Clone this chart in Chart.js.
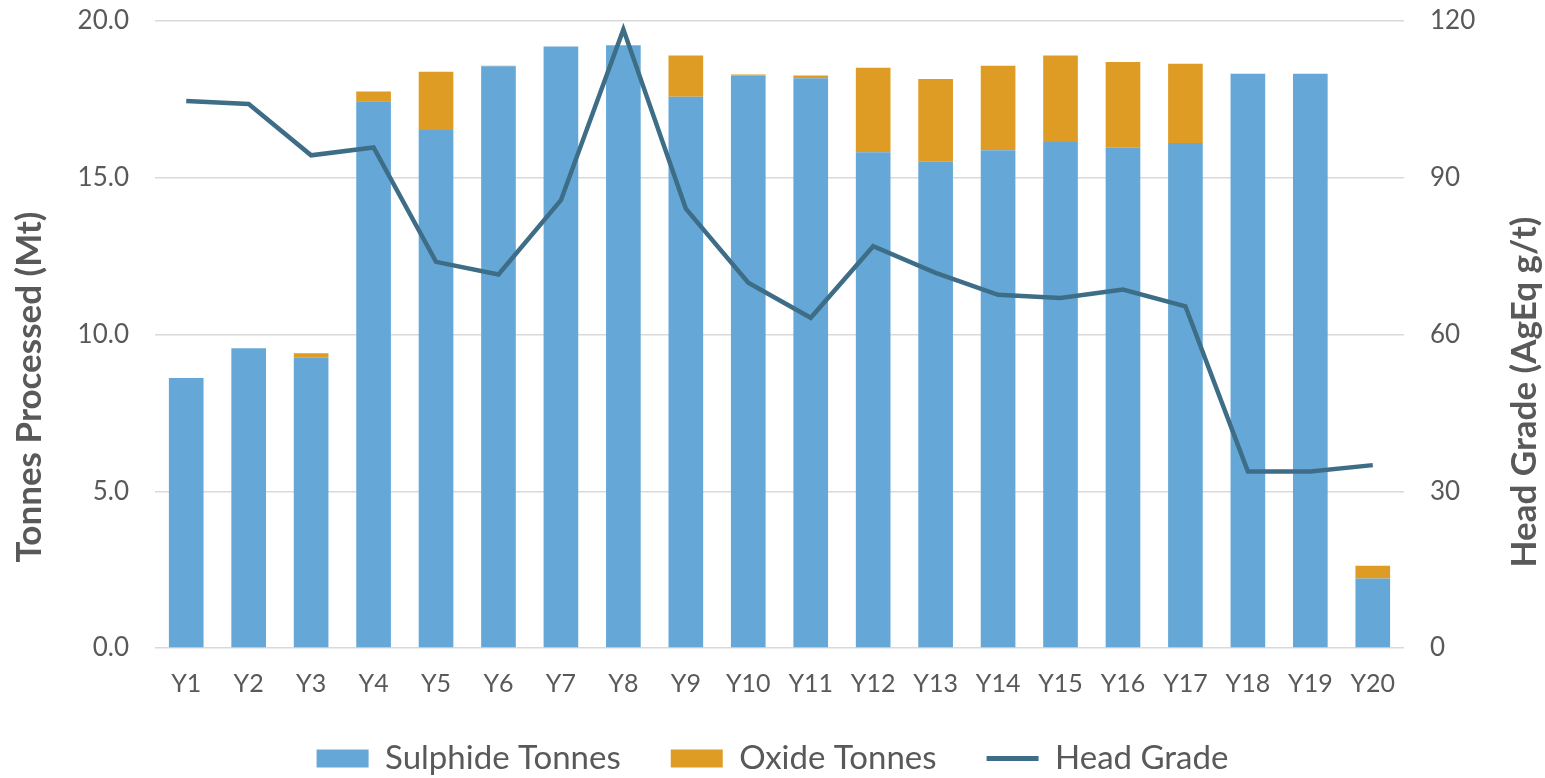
<!DOCTYPE html>
<html>
<head>
<meta charset="utf-8">
<title>Tonnes Processed and Head Grade</title>
<script src="https://cdn.jsdelivr.net/npm/chart.js@4/dist/chart.umd.min.js"></script>
<style>
    html, body { margin: 0; padding: 0; background: #fff; }
    #wrap { width: 1545px; height: 778px; position: relative; }
</style>
</head>
<body>
<div id="wrap"><canvas id="chart"></canvas></div>
<script>
// Values
const years = ['Y1', 'Y2', 'Y3', 'Y4', 'Y5', 'Y6', 'Y7', 'Y8', 'Y9', 'Y10',
    'Y11', 'Y12', 'Y13', 'Y14', 'Y15', 'Y16', 'Y17', 'Y18', 'Y19', 'Y20'];

// Mt
const sulphideTonnes = [8.61, 9.56, 9.26, 17.44, 16.52, 18.56, 19.19, 19.23, 17.58, 18.26,
    18.17, 15.81, 15.51, 15.88, 16.14, 15.96, 16.11, 18.32, 18.32, 2.22];
const oxideTonnes = [0, 0, 0.14, 0.31, 1.86, 0.01, 0, 0, 1.32, 0.03,
    0.09, 2.70, 2.64, 2.69, 2.76, 2.73, 2.53, 0, 0, 0.40];

// AgEq g/t
const headGrade = [104.7, 104.1, 94.3, 95.8, 73.9, 71.5, 85.7, 118.4, 84.1, 69.9,
    63.2, 76.9, 71.8, 67.6, 67.0, 68.6, 65.4, 33.8, 33.8, 35.0];

const leftTicks = [0, 5, 10, 15, 20];
const rightTicks = [0, 30, 60, 90, 120];

const leftTitle = 'Tonnes Processed (Mt)';
const rightTitle = 'Head Grade (AgEq g/t)';

const colors = {
    sulphide: '#65A8D7',
    oxide: '#DE9C24',
    grade: '#3E6E87',
    grid: '#D9D9D9',
    text: '#595959'
};

const fontFamily = 'Lato, "Open Sans", sans-serif';

// fixed box sizes so the plot area lands where it does in the reference
const leftAxisWidth = 155;
const rightAxisWidth = 141;
const xAxisHeight = 44;

// Both axis titles read bottom-to-top and sit on the middle of the canvas,
// which Chart.js titles can't do on the right side, so draw them here
const axisTitles = {
    id: 'axisTitles',
    afterDraw(chart) {
        const c = chart.ctx;
        c.save();
        c.fillStyle = colors.text;
        c.font = 'bold 35px ' + fontFamily;
        c.textAlign = 'center';
        c.textBaseline = 'middle';
        [[30, 387, leftTitle], [1525, 392, rightTitle]].forEach(([x, y, text]) => {
            c.save();
            c.translate(x, y);
            c.rotate(-Math.PI / 2);
            c.fillText(text, 0, 0);
            c.restore();
        });
        c.restore();
    }
};

const ctx = document.getElementById('chart');

new Chart(ctx, {
    type: 'bar',
    data: {
        labels: years,
        datasets: [
            {
                label: 'Sulphide Tonnes',
                data: sulphideTonnes,
                backgroundColor: colors.sulphide,
                borderWidth: 0,
                stack: 'tonnes',
                yAxisID: 'y',
                pointStyle: 'rect',
                order: 1,
                barPercentage: 0.555,
                categoryPercentage: 1
            },
            {
                label: 'Oxide Tonnes',
                data: oxideTonnes,
                backgroundColor: colors.oxide,
                borderWidth: 0,
                stack: 'tonnes',
                yAxisID: 'y',
                pointStyle: 'rect',
                order: 1,
                barPercentage: 0.555,
                categoryPercentage: 1
            },
            {
                type: 'line',
                label: 'Head Grade',
                data: headGrade,
                borderColor: colors.grade,
                backgroundColor: colors.grade,
                borderWidth: 4.5,
                pointRadius: 0,
                pointHoverRadius: 0,
                pointBorderWidth: 5,
                pointBorderColor: colors.grade,
                pointStyle: 'line',
                tension: 0,
                yAxisID: 'y1',
                order: 0
            }
        ]
    },
    plugins: [axisTitles],
    options: {
        responsive: true,
        maintainAspectRatio: false,
        animation: false,
        layout: {
            padding: { left: 0, right: 0, top: 21, bottom: -7 }
        },
        plugins: {
            tooltip: { enabled: false },
            legend: {
                display: true,
                position: 'bottom',
                labels: {
                    usePointStyle: true,
                    pointStyleWidth: 52,
                    boxHeight: 18,
                    padding: 50,
                    color: colors.text,
                    font: { family: fontFamily, size: 33 },
                    sort: (a, b) => a.datasetIndex - b.datasetIndex
                }
            }
        },
        scales: {
            x: {
                stacked: true,
                grid: { display: false, drawTicks: false },
                border: { display: false },
                ticks: {
                    color: colors.text,
                    padding: 21,
                    font: { family: fontFamily, size: 25 }
                },
                afterFit: scale => {
                    scale.height = xAxisHeight;
                    scale.paddingLeft = 0;
                    scale.paddingRight = 0;
                }
            },
            y: {
                position: 'left',
                stacked: true,
                min: 0,
                max: 20,
                afterBuildTicks: axis => { axis.ticks = leftTicks.map(v => ({ value: v })); },
                grid: { color: colors.grid, lineWidth: 1.5, drawTicks: false },
                border: { display: false },
                ticks: {
                    color: colors.text,
                    padding: 26,
                    font: { family: fontFamily, size: 26 },
                    callback: v => v.toFixed(1)
                },
                afterFit: scale => {
                    scale.width = leftAxisWidth;
                    scale.paddingTop = 0;
                    scale.paddingBottom = 0;
                }
            },
            y1: {
                position: 'right',
                min: 0,
                max: 120,
                afterBuildTicks: axis => { axis.ticks = rightTicks.map(v => ({ value: v })); },
                grid: { display: false, drawTicks: false },
                border: { display: false },
                ticks: {
                    color: colors.text,
                    padding: 26,
                    font: { family: fontFamily, size: 26 }
                },
                afterFit: scale => {
                    scale.width = rightAxisWidth;
                    scale.paddingTop = 0;
                    scale.paddingBottom = 0;
                }
            }
        }
    }
});
</script>
</body>
</html>
